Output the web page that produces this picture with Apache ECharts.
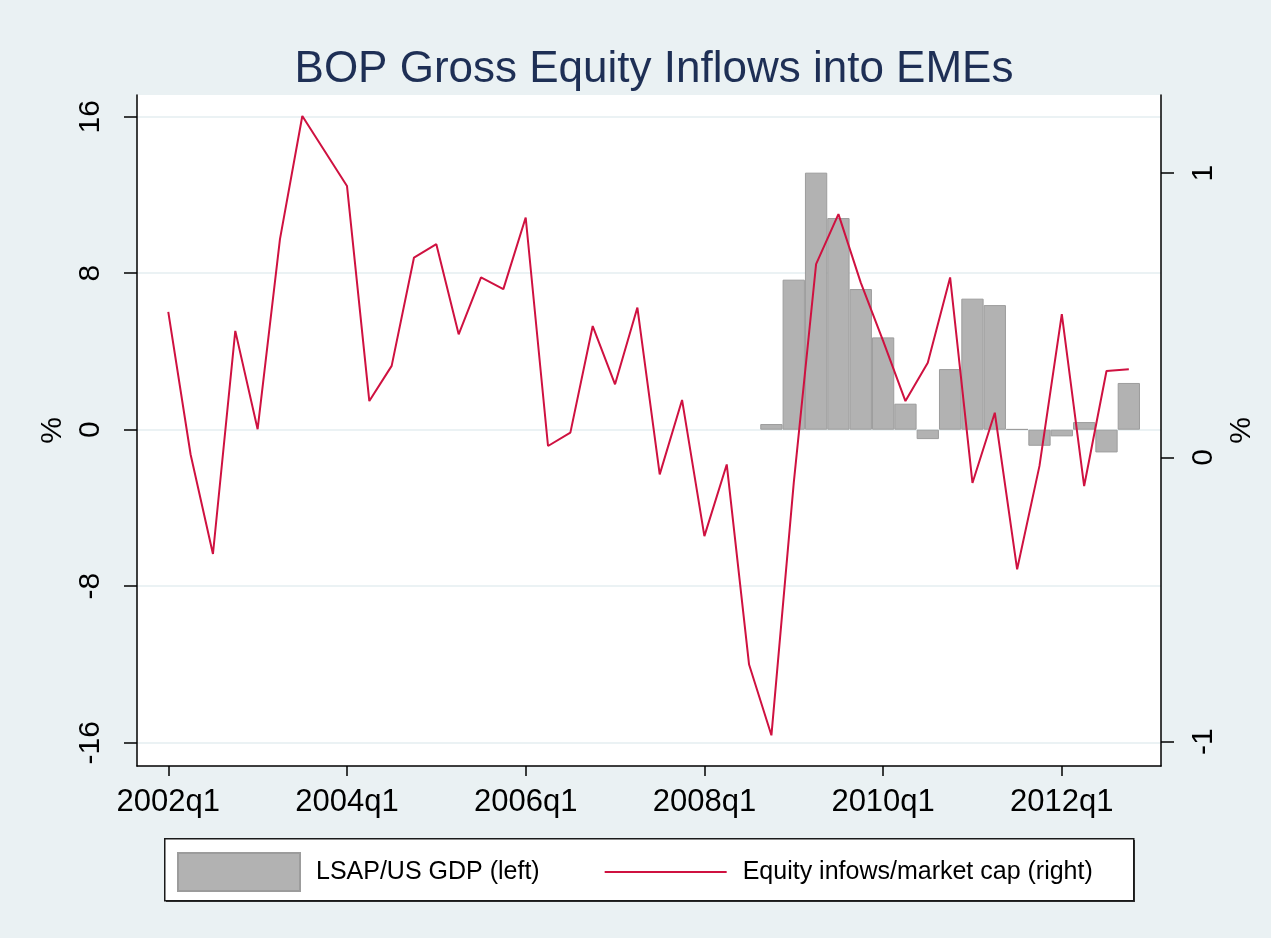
<!DOCTYPE html>
<html>
<head>
<meta charset="utf-8">
<script src="https://cdn.jsdelivr.net/npm/echarts@6/dist/echarts.min.js"></script>
<style>
html,body{margin:0;padding:0;background:#EAF1F3;}
#chart{width:1271px;height:938px;}
</style>
</head>
<body>
<div id="chart"></div>
<script>
const quarters = [
  '2002q1','2002q2','2002q3','2002q4','2003q1','2003q2','2003q3','2003q4',
  '2004q1','2004q2','2004q3','2004q4','2005q1','2005q2','2005q3','2005q4',
  '2006q1','2006q2','2006q3','2006q4','2007q1','2007q2','2007q3','2007q4',
  '2008q1','2008q2','2008q3','2008q4','2009q1','2009q2','2009q3','2009q4',
  '2010q1','2010q2','2010q3','2010q4','2011q1','2011q2','2011q3','2011q4',
  '2012q1','2012q2','2012q3','2012q4'
];
// Equity inflows / market cap (right axis, %)
const equityInflows = [
  0.512, 0.010, -0.340, 0.445, 0.099, 0.768, 1.201, 1.078,
  0.955, 0.198, 0.322, 0.703, 0.750, 0.433, 0.633, 0.592,
  0.844, 0.040, 0.087, 0.462, 0.257, 0.527, -0.060, 0.202,
  -0.277, -0.025, -0.729, -0.978, -0.090, 0.680, 0.856, 0.615,
  0.410, 0.198, 0.333, 0.633, -0.090, 0.157, -0.394, -0.030,
  0.504, -0.101, 0.304, 0.310
];
// LSAP / US GDP (left axis, %)
const lsapGdp = [
  null, null, null, null, null, null, null, null,
  null, null, null, null, null, null, null, null,
  null, null, null, null, null, null, null, null,
  null, null, null, 0.29, 7.67, 13.14, 10.82, 7.19,
  4.72, 1.33, -0.48, 3.10, 6.70, 6.37, 0.03, -0.82,
  -0.34, 0.39, -1.16, 2.39
];
const xTickLabels = ['2002q1','2004q1','2006q1','2008q1','2010q1','2012q1'];
const leftTicks = [-16, -8, 0, 8, 16];
const rightTicks = [-1, 0, 1];

const xTickIdx = xTickLabels.map(l => quarters.indexOf(l));
const barData = [];
lsapGdp.forEach((v, i) => { if (v !== null) barData.push([i, v]); });
const lineData = equityInflows.map((v, i) => [i, v]);

const FONT = '"Liberation Sans", Arial, sans-serif';
const chart = echarts.init(document.getElementById('chart'));
chart.setOption({
  backgroundColor: '#EAF1F3',
  animation: false,
  title: {
    text: 'BOP Gross Equity Inflows into EMEs',
    left: 649, top: 43, textAlign: 'center',
    textStyle: { fontFamily: FONT, fontSize: 44, fontWeight: 'normal', color: '#1E2F55' }
  },
  grid: { left: 137, right: 110, top: 95, bottom: 172, show: true, backgroundColor: '#ffffff', borderWidth: 0 },
  graphic: [{
    type: 'rect', left: 166, top: 840, z: 0,
    shape: { width: 969, height: 62 },
    style: { fill: '#3a3a3a' }
  }, {
    type: 'rect', left: 164, top: 838, z: 1,
    shape: { width: 969, height: 62 },
    style: { fill: '#ffffff', stroke: '#1a1a1a', lineWidth: 1.5 }
  }],
  legend: {
    left: 177, top: 852, z: 5, padding: 0,
    itemWidth: 122, itemHeight: 38, itemGap: 65,
    textStyle: { fontFamily: FONT, fontSize: 25, color: '#000', padding: [3, 0, 0, 11] },
    data: [
      { name: 'LSAP/US GDP (left)', icon: 'rect' },
      { name: 'Equity infows/market cap (right)', icon: 'path://M0,0L122,0L122,2.2L0,2.2Z' }
    ]
  },
  xAxis: {
    type: 'value', min: -1.4, max: 44.44,
    axisLine: { show: true, onZero: false, lineStyle: { color: '#000', width: 1.5 } },
    axisTick: { show: true, length: 10, customValues: xTickIdx, lineStyle: { color: '#000', width: 1.5 } },
    axisLabel: { customValues: xTickIdx, margin: 21, fontFamily: FONT, fontSize: 31, color: '#000',
      formatter: v => quarters[v] },
    splitLine: { show: false }
  },
  yAxis: [{
    type: 'value', position: 'left', min: -17.19, max: 17.11,
    name: '%', nameLocation: 'middle', nameRotate: 90, nameGap: 60,
    nameTextStyle: { fontFamily: FONT, fontSize: 30, color: '#000' },
    axisLine: { show: true, onZero: false, lineStyle: { color: '#000', width: 1.5 } },
    axisTick: { show: true, length: 13, customValues: leftTicks, lineStyle: { color: '#000', width: 1.5 } },
    axisLabel: { customValues: leftTicks, rotate: 90, margin: 31, fontFamily: FONT, fontSize: 30, color: '#000' },
    splitLine: { show: true, lineStyle: { color: '#E4EEF1', width: 1.5 } }
  }, {
    type: 'value', position: 'right', min: -1.086, max: 1.275,
    name: '%', nameLocation: 'middle', nameRotate: 90, nameGap: 54,
    nameTextStyle: { fontFamily: FONT, fontSize: 30, color: '#000' },
    axisLine: { show: true, onZero: false, lineStyle: { color: '#000', width: 1.5 } },
    axisTick: { show: true, length: 13, customValues: rightTicks, lineStyle: { color: '#000', width: 1.5 } },
    axisLabel: { customValues: rightTicks, rotate: 90, margin: 28, fontFamily: FONT, fontSize: 30, color: '#000' },
    splitLine: { show: false }
  }],
  series: [{
    name: 'LSAP/US GDP (left)', type: 'bar', yAxisIndex: 0, barWidth: 22.3,
    itemStyle: { color: '#B2B2B2', borderColor: '#9C9C9C', borderWidth: 1 },
    data: barData
  }, {
    name: 'Equity infows/market cap (right)', type: 'line', yAxisIndex: 1,
    symbol: 'none', lineStyle: { color: '#CF1140', width: 2 }, itemStyle: { color: '#CF1140' },
    data: lineData
  }]
});
</script>
</body>
</html>
